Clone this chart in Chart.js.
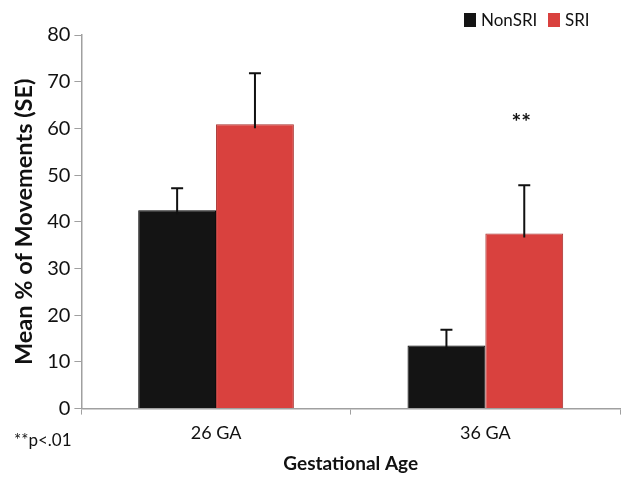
<html>
<head>
    <title>Gestational Age</title>
    <style>
        body {
            margin: 0;
            background: #fff;
        }
        .chart-container {
            width: 643px;
            height: 483px;
        }
    </style>
    <script src="https://cdn.jsdelivr.net/npm/chart.js"></script>
</head>
<body>
    <div class="chart-container">
        <canvas id="moveChart"></canvas>
    </div>
    <script>
        var categories = ['26 GA', '36 GA'];
        var nonSri = [42.5, 13.5];
        var sri = [60.9, 37.5];
        var nonSriErr = [4.7, 3.4];
        var sriErr = [10.9, 10.3];
        var yTicks = [0, 10, 20, 30, 40, 50, 60, 70, 80];

        var font = 'Lato, "Open Sans", sans-serif';

        // error bars, significance marks and the legend in the top right corner
        var extras = {
            id: 'extras',
            afterDatasetsDraw: function (chart) {
                var ctx = chart.ctx;
                var y = chart.scales.y;
                var errs = [nonSriErr, sriErr];
                ctx.save();
                ctx.strokeStyle = '#111';
                ctx.lineWidth = 2;
                for (var d = 0; d < 2; d++) {
                    var meta = chart.getDatasetMeta(d);
                    meta.data.forEach(function (bar, i) {
                        var v = chart.data.datasets[d].data[i];
                        var top = y.getPixelForValue(v + errs[d][i]);
                        var base = y.getPixelForValue(v) + 4;
                        ctx.beginPath();
                        ctx.moveTo(bar.x, base);
                        ctx.lineTo(bar.x, top);
                        ctx.moveTo(bar.x - 6, top);
                        ctx.lineTo(bar.x + 6, top);
                        ctx.stroke();
                    });
                }
                // ** over 36 GA SRI
                var b = chart.getDatasetMeta(1).data[1];
                ctx.fillStyle = '#111';
                ctx.font = 'bold 23px ' + font;
                ctx.textAlign = 'center';
                ctx.textBaseline = 'middle';
                ctx.fillText('**', b.x - 3, y.getPixelForValue(62.5) + 6);
                // footnote
                ctx.font = '17px ' + font;
                ctx.textAlign = 'left';
                ctx.fillText('**p<.01', 14, 441);

                // legend
                var lx = [464, 548];
                ctx.font = '17px ' + font;
                chart.data.datasets.forEach(function (ds, k) {
                    ctx.fillStyle = ds.backgroundColor;
                    ctx.fillRect(lx[k], 13, 12, 14);
                    ctx.fillStyle = '#111';
                    ctx.fillText(ds.label, lx[k] + 17, 21);
                });
                ctx.restore();
            }
        };

        var ctx = document.getElementById('moveChart').getContext('2d');
        var moveChart = new Chart(ctx, {
            type: 'bar',
            data: {
                labels: categories,
                datasets: [
                    {
                        label: 'NonSRI',
                        data: nonSri,
                        backgroundColor: '#141414',
                        borderColor: '#000',
                        borderWidth: 1
                    },
                    {
                        label: 'SRI',
                        data: sri,
                        backgroundColor: '#d9413e',
                        borderColor: '#a8302d',
                        borderWidth: 1
                    }
                ]
            },
            options: {
                responsive: true,
                maintainAspectRatio: false,
                animation: false,
                datasets: {
                    bar: {
                        categoryPercentage: 0.578,
                        barPercentage: 1
                    }
                },
                layout: {
                    padding: { left: 10, right: 23, top: 35, bottom: 8 }
                },
                plugins: {
                    legend: { display: false },
                    tooltip: { enabled: false }
                },
                scales: {
                    x: {
                        grid: {
                            display: true,
                            drawOnChartArea: false,
                            drawTicks: true,
                            tickLength: 6,
                            color: '#a0a0a0'
                        },
                        border: { color: '#a0a0a0', width: 1.5 },
                        ticks: {
                            color: '#111',
                            padding: 8,
                            font: { family: font, size: 18 }
                        },
                        title: {
                            display: true,
                            text: 'Gestational Age',
                            color: '#111',
                            padding: { top: 0, bottom: 0 },
                            font: { family: font, size: 19, weight: 'bold' }
                        }
                    },
                    y: {
                        min: 0,
                        max: 80,
                        afterBuildTicks: function (axis) {
                            axis.ticks = yTicks.map(function (v) { return { value: v }; });
                        },
                        grid: {
                            display: true,
                            drawOnChartArea: false,
                            drawTicks: true,
                            tickLength: 7,
                            color: '#a0a0a0'
                        },
                        border: { color: '#a0a0a0', width: 1.5 },
                        ticks: {
                            color: '#111',
                            padding: 4,
                            font: { family: font, size: 20 }
                        },
                        title: {
                            display: true,
                            text: 'Mean % of Movements (SE)',
                            color: '#111',
                            padding: { top: 0, bottom: 5 },
                            font: { family: font, size: 23.5, weight: 'bold' }
                        }
                    }
                }
            },
            plugins: [extras]
        });
    </script>
</body>
</html>
